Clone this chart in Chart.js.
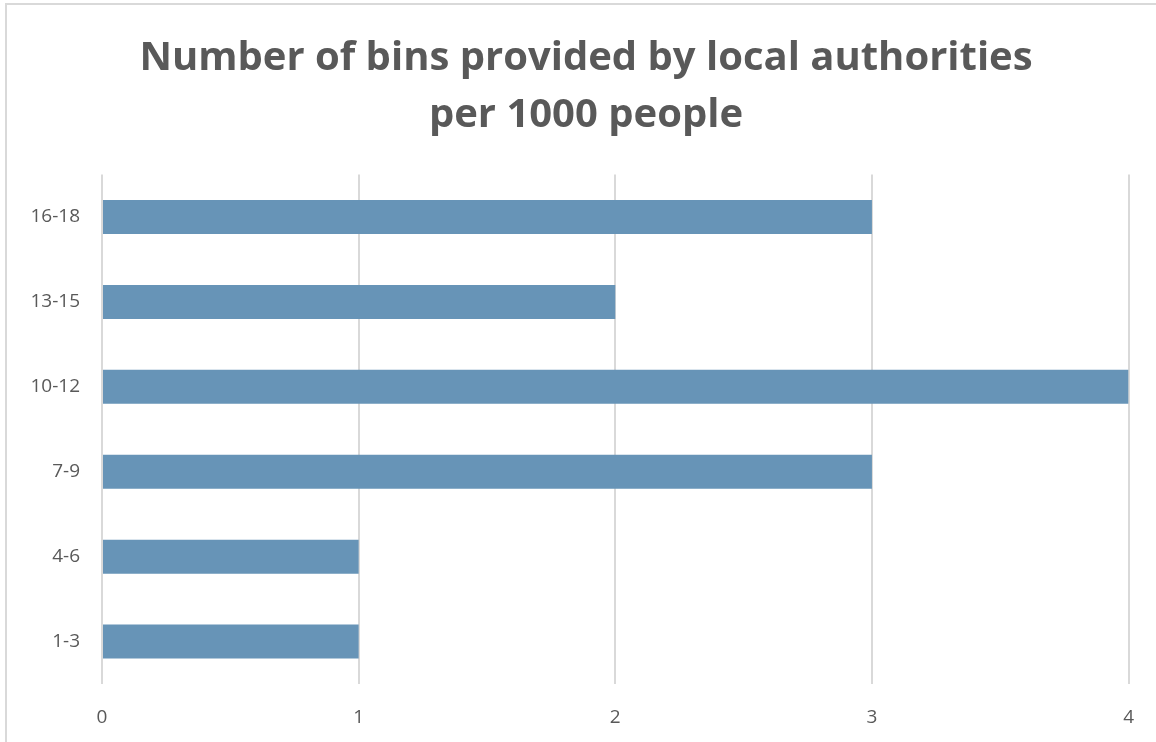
<!DOCTYPE html>
<html>
<head>
<meta charset="utf-8">
<script src="https://cdn.jsdelivr.net/npm/chart.js@4"></script>
<style>
  html, body { margin: 0; padding: 0; background: #fff; overflow: hidden; }
  #wrap { position: relative; width: 1156px; height: 742px; }
  #frame { position: absolute; left: 5px; top: 3px; width: 1160px; height: 760px; border: 2px solid #d9d9d9; box-sizing: border-box; }
  canvas { position: absolute; left: 0; top: 0; }
</style>
</head>
<body>
<div id="wrap">
  <div id="frame"></div>
  <canvas id="myChart" width="1156" height="742"></canvas>
</div>
<script>
const titleLines = ['Number of bins provided by local authorities', 'per 1000 people'];
const ageGroups = ['1-3', '4-6', '7-9', '10-12', '13-15', '16-18'];
const binCounts = [1, 1, 3, 4, 2, 3];
const xTicks = [0, 1, 2, 3, 4];

document.addEventListener("DOMContentLoaded", function () {
    const ctx = document.getElementById('myChart').getContext('2d');

    new Chart(ctx, {
        type: 'bar',
        data: {
            labels: ageGroups,
            datasets: [{
                label: 'Bins',
                data: binCounts,
                backgroundColor: '#6794b7',
                borderWidth: 0,
                categoryPercentage: 0.4,
                barPercentage: 1.0
            }]
        },
        options: {
            indexAxis: 'y',
            responsive: false,
            animation: false,
            // left - right = 16 so the title sits where the original has it
            layout: { padding: { left: 20, right: 4, top: 0, bottom: 0 } },
            plugins: {
                legend: { display: false },
                tooltip: { enabled: false },
                title: {
                    display: true,
                    text: titleLines,
                    color: '#595959',
                    font: { family: 'Open Sans', size: 40, weight: 'bold', lineHeight: 1.42 },
                    padding: { top: 30, bottom: 31 }
                }
            },
            scales: {
                x: {
                    min: xTicks[0],
                    max: xTicks[xTicks.length - 1],
                    afterBuildTicks: function (scale) {
                        scale.ticks = xTicks.map(v => ({ value: v }));
                    },
                    afterFit: function (scale) { scale.height = 58; },
                    grid: { color: '#d9d9d9', lineWidth: 2, drawTicks: false },
                    border: { display: false },
                    ticks: {
                        color: '#595959',
                        font: { family: 'Open Sans', size: 19 },
                        padding: 22
                    }
                },
                y: {
                    reverse: true,
                    afterFit: function (scale) { scale.width = 82; },
                    grid: { display: false, drawTicks: false },
                    border: { display: false },
                    ticks: {
                        color: '#595959',
                        font: { family: 'Open Sans', size: 19 },
                        padding: 22
                    }
                },
                // empty spacer on the right so the plot ends at the same place
                spacer: {
                    type: 'linear',
                    position: 'right',
                    afterFit: function (scale) { scale.width = 23; },
                    grid: { display: false, drawTicks: false },
                    border: { display: false },
                    ticks: { display: false }
                }
            }
        }
    });
});
</script>
</body>
</html>
